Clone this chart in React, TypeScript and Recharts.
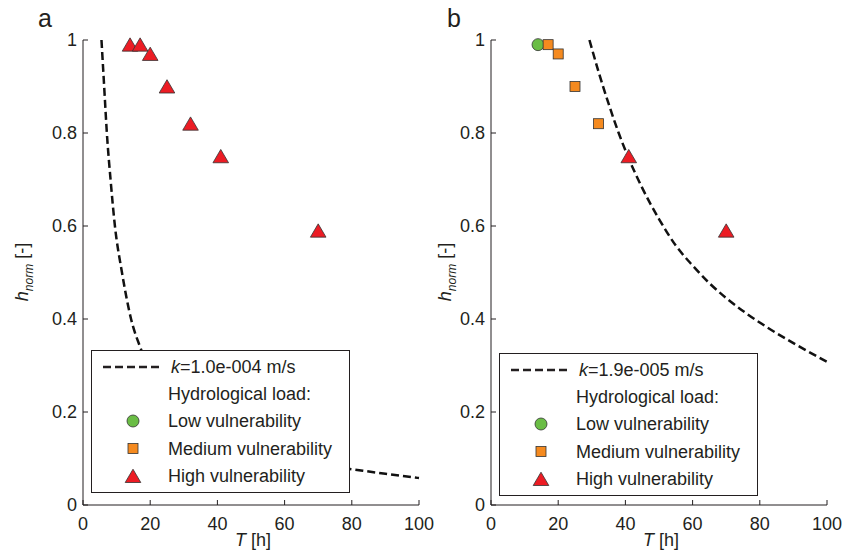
import React from "react";
import {
  ComposedChart,
  Line,
  Scatter,
  XAxis,
  YAxis,
} from "recharts";

// observed events (same events in both panels)
const durations = [14, 17, 20, 25, 32, 41, 70];
const hNorm = [0.99, 0.99, 0.97, 0.9, 0.82, 0.75, 0.59];
const vulnA = ["High", "High", "High", "High", "High", "High", "High"];
const vulnB = ["Low", "Medium", "Medium", "Medium", "Medium", "High", "High"];

// dashed threshold curves
const curveAT = [5.5, 6.3, 7.1, 8.2, 9.5, 11.6, 14.3, 17, 20, 25, 30, 40, 50, 60, 70, 80, 90, 100];
const curveAH = [1.0, 0.9, 0.8, 0.7, 0.6, 0.5, 0.4, 0.34, 0.29, 0.23, 0.19, 0.14, 0.115, 0.098, 0.087, 0.077, 0.067, 0.058];
const curveBT = [29.3, 32, 35, 38, 41, 45, 50, 55, 60, 65, 70, 76, 82, 90, 100];
const curveBH = [1.0, 0.932, 0.863, 0.8, 0.745, 0.682, 0.615, 0.558, 0.515, 0.477, 0.445, 0.412, 0.383, 0.348, 0.308];

const xTicks = [0, 20, 40, 60, 80, 100];
const yTicks = [0, 0.2, 0.4, 0.6, 0.8, 1];
const kLabels = ["1.0e-004", "1.9e-005"];

const FONT = "'Liberation Sans', Arial, Helvetica, sans-serif";
const INK = "#231f20";
const COLORS: Record<string, string> = {
  Low: "#6abd45",
  Medium: "#f58a1f",
  High: "#ec1c24",
};

const Marker = ({ kind, cx, cy }: { kind: string; cx: number; cy: number }) => {
  if (kind === "Low")
    return <circle cx={cx} cy={cy} r={6} fill={COLORS.Low} stroke="#333" strokeWidth={0.8} />;
  if (kind === "Medium")
    return (
      <rect x={cx - 5} y={cy - 5} width={10} height={10} fill={COLORS.Medium} stroke="#333" strokeWidth={0.8} />
    );
  return (
    <polygon
      points={`${cx - 7.8},${cy + 6.5} ${cx + 7.8},${cy + 6.5} ${cx},${cy - 6.8}`}
      fill={COLORS.High}
      stroke="#333"
      strokeWidth={0.8}
    />
  );
};

const toRows = (xs: number[], ys: number[]) => xs.map((T, i) => ({ T, h: ys[i] }));

const Legend = ({ left, top, k }: { left: number; top: number; k: string }) => (
  <div
    style={{
      position: "absolute",
      left,
      top,
      width: 259,
      height: 143,
      border: `1px solid ${INK}`,
      background: "#fff",
      boxSizing: "border-box",
    }}
  >
    <svg width={259} height={143} style={{ display: "block", position: "absolute", left: -1, top: -1 }}>
      <g fontFamily={FONT} fontSize={18} fill={INK}>
        <line x1={12} x2={70} y1={17} y2={17} stroke={INK} strokeWidth={2.5} strokeDasharray="8 4" />
        <text x={80} y={23}>
          <tspan fontStyle="italic">k</tspan>={k} m/s
        </text>
        <text x={77} y={50}>Hydrological load:</text>
        <Marker kind="Low" cx={42} cy={71} />
        <text x={77} y={77}>Low vulnerability</text>
        <Marker kind="Medium" cx={42} cy={98.5} />
        <text x={77} y={104.5}>Medium vulnerability</text>
        <Marker kind="High" cx={42} cy={126} />
        <text x={77} y={132}>High vulnerability</text>
      </g>
    </svg>
  </div>
);

const Panel = ({
  left,
  width,
  marginLeft,
  marginRight,
  curveT,
  curveH,
  vuln,
}: {
  left: number;
  width: number;
  marginLeft: number;
  marginRight: number;
  curveT: number[];
  curveH: number[];
  vuln: string[];
}) => {
  const points = durations.map((T, i) => ({ T, h: hNorm[i], v: vuln[i] }));
  const groups = ["Low", "Medium", "High"].filter((g) => points.some((p) => p.v === g));
  const tickStyle = { fill: INK, fontSize: 18, fontFamily: FONT };
  return (
    <div style={{ position: "absolute", left, top: 0 }}>
      <ComposedChart
        width={width}
        height={556}
        margin={{ top: 40, right: marginRight, bottom: 11, left: marginLeft }}
      >
        <XAxis
          xAxisId="b"
          dataKey="T"
          type="number"
          domain={[0, 100]}
          ticks={xTicks}
          height={40}
          tickSize={-5}
          tickMargin={17}
          tick={tickStyle}
          stroke={INK}
          tickLine={{ stroke: INK }}
          axisLine={{ stroke: INK }}
          label={({ viewBox }: any) => (
            <text
              x={viewBox.x + viewBox.width / 2 + 2}
              y={546}
              textAnchor="middle"
              fontFamily={FONT}
              fontSize={18}
              fill={INK}
            >
              <tspan fontStyle="italic">T</tspan> [h]
            </text>
          )}
        />
        <XAxis
          xAxisId="t"
          orientation="top"
          dataKey="T"
          type="number"
          domain={[0, 100]}
          ticks={xTicks}
          height={0}
          tickSize={-5}
          tickFormatter={() => ""}
          stroke={INK}
        />
        <YAxis
          yAxisId="l"
          dataKey="h"
          type="number"
          domain={[0, 1]}
          ticks={yTicks}
          width={60}
          tickSize={-5}
          tickMargin={11}
          tick={tickStyle}
          stroke={INK}
          label={() => (
            <text
              transform="translate(28, 272) rotate(-90)"
              textAnchor="middle"
              fontFamily={FONT}
              fontSize={18}
              fill={INK}
            >
              <tspan fontStyle="italic">h</tspan>
              <tspan fontStyle="italic" fontSize={12} dy={5}>
                norm
              </tspan>
              <tspan dy={-5}> [-]</tspan>
            </text>
          )}
        />
        <YAxis
          yAxisId="r"
          orientation="right"
          dataKey="h"
          type="number"
          domain={[0, 1]}
          ticks={yTicks}
          width={0}
          tickSize={-5}
          tickFormatter={() => ""}
          stroke={INK}
        />
        <Line
          xAxisId="b"
          yAxisId="l"
          data={toRows(curveT, curveH)}
          dataKey="h"
          type="monotone"
          stroke="#111"
          strokeWidth={2.5}
          strokeDasharray="8 4"
          dot={false}
          activeDot={false}
          isAnimationActive={false}
        />
        {groups.map((g) => (
          <Scatter
            key={g}
            xAxisId="b"
            yAxisId="l"
            data={points.filter((p) => p.v === g)}
            dataKey="h"
            isAnimationActive={false}
            shape={(p: any) => <Marker kind={g} cx={p.cx} cy={p.cy} />}
          />
        ))}
      </ComposedChart>
    </div>
  );
};

export default function App() {
  return (
    <div
      style={{
        position: "absolute",
        left: 0,
        top: 0,
        width: 846,
        height: 556,
        background: "#fff",
        overflow: "hidden",
      }}
    >
      <Panel left={0} width={460} marginLeft={23} marginRight={41} curveT={curveAT} curveH={curveAH} vuln={vulnA} />
      <Panel left={423} width={423} marginLeft={8} marginRight={19} curveT={curveBT} curveH={curveBH} vuln={vulnB} />
      <Legend left={91} top={350} k={kLabels[0]} />
      <Legend left={499} top={353} k={kLabels[1]} />
      <svg width={846} height={40} style={{ position: "absolute", left: 0, top: 0 }}>
        <text x={38} y={27} fontFamily={FONT} fontSize={25} fill={INK}>
          a
        </text>
        <text x={447} y={27} fontFamily={FONT} fontSize={25} fill={INK}>
          b
        </text>
      </svg>
    </div>
  );
}
